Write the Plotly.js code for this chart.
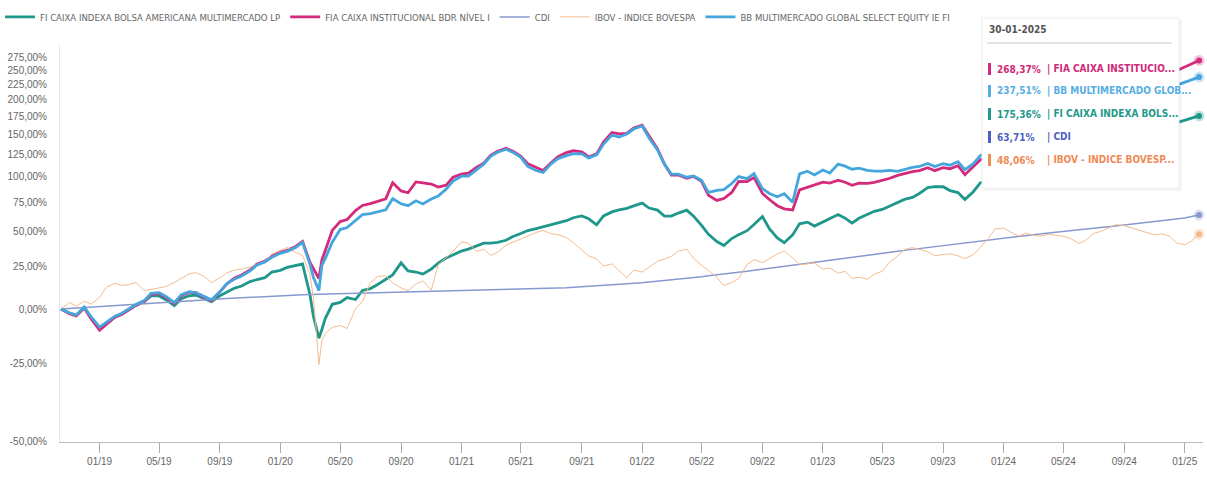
<!DOCTYPE html>
<html><head><meta charset="utf-8">
<script src="https://cdn.plot.ly/plotly-3.0.1.min.js"></script>
<style>html,body{margin:0;padding:0;background:#fff;}#chart{width:1207px;height:478px;}</style>
</head><body><div id="chart"></div>
<script>
const dates = [
'2018-10-15','2018-11-01','2018-11-15','2018-12-01','2018-12-15',
'2019-01-01','2019-01-15','2019-02-01','2019-02-15','2019-03-01','2019-03-15','2019-04-01','2019-04-15','2019-05-01','2019-05-15','2019-06-01','2019-06-15',
'2019-07-01','2019-07-15','2019-08-01','2019-08-15','2019-09-01','2019-09-15','2019-10-01','2019-10-15','2019-11-01','2019-11-15','2019-12-01','2019-12-15',
'2020-01-01','2020-01-15','2020-02-01','2020-02-15','2020-03-01','2020-03-08','2020-03-15','2020-03-19','2020-03-25','2020-04-01','2020-04-15','2020-05-01','2020-05-15','2020-06-01','2020-06-15',
'2020-07-01','2020-07-15','2020-08-01','2020-08-15','2020-09-01','2020-09-15','2020-10-01','2020-10-15','2020-11-01','2020-11-15','2020-12-01','2020-12-15',
'2021-01-01','2021-01-15','2021-02-01','2021-02-15','2021-03-01','2021-03-15','2021-04-01','2021-04-15','2021-05-01','2021-05-15','2021-06-01','2021-06-15',
'2021-07-01','2021-07-15','2021-08-01','2021-08-15','2021-09-01','2021-09-15','2021-10-01','2021-10-15','2021-11-01','2021-11-15','2021-12-01','2021-12-15',
'2022-01-01','2022-01-15','2022-02-01','2022-02-15','2022-03-01','2022-03-15','2022-04-01','2022-04-15','2022-05-01','2022-05-15','2022-06-01','2022-06-15',
'2022-07-01','2022-07-15','2022-08-01','2022-08-15','2022-09-01','2022-09-15','2022-10-01','2022-10-15','2022-11-01','2022-11-15','2022-12-01','2022-12-15',
'2023-01-01','2023-01-15','2023-02-01','2023-02-15','2023-03-01','2023-03-15','2023-04-01','2023-04-15','2023-05-01','2023-05-15','2023-06-01','2023-06-15',
'2023-07-01','2023-07-15','2023-08-01','2023-08-15','2023-09-01','2023-09-15','2023-10-01','2023-10-15','2023-11-01','2023-11-15','2023-12-01','2023-12-15',
'2024-01-01','2024-01-15','2024-02-01','2024-02-15','2024-03-01','2024-03-15','2024-04-01','2024-04-15','2024-05-01','2024-05-15','2024-06-01','2024-06-15',
'2024-07-01','2024-07-15','2024-08-01','2024-08-15','2024-09-01','2024-09-15','2024-10-01','2024-10-15','2024-11-01','2024-11-15','2024-12-01','2024-12-15',
'2025-01-01','2025-01-15'
];
const lastDate = '2025-01-30';
const tooltipDate = '30-01-2025';

const seriesNames = [
  'FI CAIXA INDEXA BOLSA AMERICANA MULTIMERCADO LP',
  'FIA CAIXA INSTITUCIONAL BDR NÍVEL I',
  'CDI',
  'IBOV - INDICE BOVESPA',
  'BB MULTIMERCADO GLOBAL SELECT EQUITY IE FI'
];

// accumulated return, %
const fiValues = [
  0, -2.1, -3.1, 1.0, -4.6,
  -9.6, -7.2, -4.2, -2.7, -0.3, 1.9, 4.0, 7.1, 7.1, 5.0, 1.8, 5.5, 7.2, 7.5, 5.5, 3.9, 7.2, 9.4, 11.6, 12.8, 15.5, 16.7, 17.9, 21.4,
  22.5, 24.4, 25.8, 26.6, 7.8, -3.8, -10.6, -14.2, -10.2, -4.8, 2.5, 3.5, 6.2, 5.1, 10.2, 11.3, 13.6, 16.6, 19.6, 27.4, 22.1, 21.4, 20.1, 23.3, 27.2, 30.6, 32.7,
  35.5, 36.9, 39.0, 41.2, 41.2, 41.9, 43.4, 46.3, 48.6, 50.9, 52.5, 54.0, 55.7, 57.3, 58.9, 61.4, 63.0, 60.5, 55.5, 62.9, 66.4, 68.1, 69.5, 71.7,
  74.3, 69.8, 68.0, 62.8, 62.8, 65.4, 67.9, 62.6, 55.1, 47.9, 42.5, 39.5, 44.7, 47.7, 50.8, 55.7, 62.4, 52.3, 45.2, 41.6, 47.5, 56.3, 57.7, 54.5,
  57.8, 61.2, 64.1, 61.0, 56.9, 60.9, 64.3, 66.9, 68.6, 71.2, 74.9, 77.7, 79.5, 83.3, 89.0, 90.0, 89.9, 86.1, 84.2, 77.5, 85.0, 93.8
];
const fiaValues = [
  0, -2.5, -3.6, 0.5, -5.1,
  -10.5, -7.7, -4.2, -2.7, -0.3, 1.9, 4.0, 7.9, 8.5, 6.2, 2.9, 7.2, 9.2, 8.9, 6.1, 4.5, 9.4, 14.1, 17.7, 19.5, 22.7, 26.6, 28.6, 31.9,
  34.6, 36.0, 38.8, 42.5, 27.7, 23.7, 19.3, 17.3, 29.2, 36.1, 51.0, 58.2, 59.9, 67.6, 72.1, 73.8, 75.7, 78.3, 93.9, 85.8, 84.0, 94.7, 93.8, 92.6, 89.6, 91.5, 99.6,
  102.9, 103.8, 110.4, 114.9, 124.0, 128.8, 132.3, 128.7, 122.6, 114.3, 109.9, 106.8, 115.4, 122.4, 127.1, 129.3, 128.1, 122.0, 125.6, 140.0, 152.4, 150.5, 151.2, 158.3,
  162.4, 147.5, 131.4, 113.8, 101.9, 101.9, 98.5, 100.4, 95.3, 81.5, 76.7, 78.5, 84.3, 95.2, 95.1, 99.2, 83.3, 77.6, 71.9, 69.1, 68.1, 86.8, 89.6, 91.6,
  94.6, 93.6, 96.6, 94.4, 91.4, 93.4, 93.3, 94.3, 96.4, 98.3, 101.5, 103.6, 105.6, 106.7, 109.9, 106.6, 109.8, 108.7, 112.0, 102.3, 110.8, 118.5
];
const cdiValues = [
  0, 0.3, 0.55, 0.8, 1.05,
  1.3, 1.55, 1.8, 2.05, 2.3, 2.55, 2.8, 3.05, 3.3, 3.55, 3.8, 4.1, 4.4, 4.65, 4.9, 5.15, 5.4, 5.65, 5.9, 6.15, 6.4, 6.6, 6.8, 7.0,
  7.2, 7.4, 7.6, 7.75, 7.9, 7.95, 8.05, 8.1, 8.2, 8.3, 8.45, 8.6, 8.75, 8.9, 9.0, 9.1, 9.2, 9.3, 9.4, 9.5, 9.55, 9.6, 9.7, 9.8, 9.9, 10.0, 10.05,
  10.1, 10.2, 10.3, 10.35, 10.4, 10.5, 10.6, 10.7, 10.8, 10.95, 11.1, 11.25, 11.4, 11.6, 11.8, 12.05, 12.3, 12.55, 12.8, 13.1, 13.4, 13.7, 14.0, 14.4,
  14.8, 15.25, 15.7, 16.1, 16.5, 17.0, 17.5, 18.0, 18.5, 19.05, 19.6, 20.15, 20.7, 21.3, 21.9, 22.55, 23.2, 23.85, 24.5, 25.15, 25.8, 26.45, 27.1, 27.75,
  28.4, 29.1, 29.8, 30.45, 31.1, 31.8, 32.5, 33.2, 33.9, 34.6, 35.3, 36.0, 36.7, 37.4, 38.1, 38.85, 39.6, 40.3, 41.0, 41.7, 42.4, 43.05, 43.7, 44.35,
  45.0, 45.7, 46.4, 47.0, 47.6, 48.25, 48.9, 49.55, 50.2, 50.8, 51.4, 52.05, 52.7, 53.35, 54.0, 54.65, 55.3, 55.95, 56.6, 57.3, 58.0, 58.75, 59.5, 60.35,
  61.2, 62.4
];
const ibovValues = [
  0, 3.5, 1.5, 4.2, 2.6,
  6.4, 12.1, 14.5, 13.1, 13.7, 14.9, 10.2, 10.8, 11.9, 12.5, 14.9, 17.2, 20.3, 21.0, 18.5, 14.8, 17.8, 20.9, 22.7, 23.3, 24.6, 26.6, 28.6, 33.4,
  36.1, 38.1, 34.5, 32.4, 20.0, 5.8, -14.5, -25.3, -15.3, -12.0, -9.2, -8.3, -9.7, 0.3, 4.0, 14.9, 18.5, 19.1, 14.7, 11.7, 10.0, 14.1, 15.9, 10.5, 25.9, 30.6, 35.5,
  42.1, 41.3, 35.3, 36.8, 32.5, 34.7, 39.7, 41.9, 44.0, 46.3, 49.4, 50.9, 48.5, 47.7, 45.4, 41.6, 36.4, 32.1, 30.0, 25.3, 26.7, 22.1, 17.7, 22.7,
  21.4, 24.6, 28.5, 29.8, 31.9, 35.5, 36.8, 30.4, 25.7, 22.4, 18.0, 13.1, 14.9, 17.3, 26.3, 29.6, 27.5, 30.2, 33.5, 35.6, 30.7, 26.1, 26.6, 27.3,
  23.3, 24.0, 20.7, 21.9, 17.5, 18.1, 16.9, 20.0, 21.9, 27.7, 31.8, 36.7, 38.0, 36.6, 35.1, 32.3, 33.0, 33.6, 32.2, 30.2, 32.9, 37.9, 44.5, 52.2,
  52.9, 49.8, 46.5, 48.9, 47.3, 46.5, 48.0, 47.2, 46.4, 44.9, 41.1, 43.3, 48.6, 50.2, 53.3, 55.6, 54.8, 53.1, 51.5, 49.9, 47.5, 48.3, 46.7, 41.5,
  40.0, 42.9
];
const bbValues = [
  0, -2.1, -3.1, 1.0, -4.1,
  -9.1, -6.7, -3.7, -2.2, 0.3, 2.4, 4.5, 8.5, 9.0, 6.8, 3.4, 7.8, 9.5, 8.9, 6.7, 5.0, 9.4, 14.1, 17.1, 18.9, 22.1, 26.0, 28.0, 31.2,
  33.9, 35.3, 38.1, 41.8, 26.4, 18.0, 13.0, 10.1, 25.7, 30.4, 42.0, 51.7, 53.3, 59.0, 64.1, 64.9, 66.6, 68.3, 78.3, 73.7, 71.9, 76.4, 73.5, 78.1, 80.8, 87.5, 95.6,
  100.7, 100.7, 108.2, 113.7, 122.8, 127.6, 131.1, 127.5, 121.5, 111.2, 106.8, 104.6, 114.2, 120.1, 123.6, 125.8, 125.7, 120.8, 124.4, 137.6, 149.1, 146.5, 150.4, 157.0,
  161.1, 145.2, 130.4, 113.8, 102.9, 102.9, 99.6, 100.9, 96.3, 84.4, 86.2, 87.1, 93.1, 100.2, 98.1, 103.4, 88.0, 83.3, 80.2, 83.1, 75.0, 103.1, 106.0, 102.0,
  107.3, 104.1, 113.8, 111.5, 108.2, 109.3, 107.0, 106.0, 106.0, 106.9, 105.8, 108.0, 110.1, 111.2, 114.5, 111.1, 114.3, 112.6, 116.5, 107.7, 114.2, 123.4
];
const finalValues = [175.36, 268.37, 63.71, 48.06, 237.51];

const yTickValues = [-50, -25, 0, 25, 50, 75, 100, 125, 150, 175, 200, 225, 250, 275];

const lineColors = ['#1f978b', '#d42a7c', '#8599cf', '#f5bb8c', '#45a6de'];
const haloColors = ['rgba(31,151,139,0.28)', 'rgba(212,42,124,0.28)', 'rgba(133,153,207,0.28)', 'rgba(245,187,140,0.35)', 'rgba(69,166,222,0.28)'];
const textColors = ['#22988c', '#cf2a7b', '#4e5fc3', '#ef8a55', '#58aee2'];
const lineWidths = [2.8, 2.8, 1.5, 1, 2.8];

const NARROW = '"Liberation Sans Narrow", "Arial Narrow", "DejaVu Sans Condensed", "Liberation Sans", Arial, sans-serif';
const SANS = '"Liberation Sans", Arial, sans-serif';

const allValues = [fiValues, fiaValues, cdiValues, ibovValues, bbValues];
const toFactor = v => 1 + v / 100;

const traces = [];
allValues.forEach((vals, i) => {
  traces.push({
    type: 'scatter', mode: 'lines', name: seriesNames[i],
    x: dates.slice(0, vals.length).concat([lastDate]),
    y: vals.concat([finalValues[i]]).map(toFactor),
    line: {color: lineColors[i], width: lineWidths[i]},
    hoverinfo: 'skip'
  });
});
allValues.forEach((vals, i) => {
  traces.push({
    type: 'scatter', mode: 'markers', showlegend: false, cliponaxis: false,
    x: [lastDate], y: [toFactor(finalValues[i])],
    marker: {size: 6, color: lineColors[i], line: {width: 5, color: haloColors[i]}},
    hoverinfo: 'skip'
  });
});

// plot area in pixels
const L = 60, R = 1203, T = 45, B = 442;
const fx = px => (px - L) / (R - L);
const fy = py => (B - py) / (B - T);

const fmt = v => v.toFixed(2).replace('.', ',') + '%';
const shortName = n => n.length > 20 ? n.slice(0, 20) + '...' : n;

const order = finalValues.map((v, i) => i).sort((a, b) => finalValues[b] - finalValues[a]);
const rowY = [69, 91, 114, 137, 160];

const shapes = [
  {type: 'rect', xref: 'paper', yref: 'paper', layer: 'above', x0: fx(984), x1: fx(1182), y0: fy(191), y1: fy(20), fillcolor: 'rgba(0,0,0,0.04)', line: {width: 0}},
  {type: 'rect', xref: 'paper', yref: 'paper', layer: 'above', x0: fx(982), x1: fx(1179), y0: fy(188), y1: fy(18), fillcolor: '#ffffff', line: {color: '#ececec', width: 1}},
  {type: 'line', xref: 'paper', yref: 'paper', layer: 'above', x0: fx(987), x1: fx(1172), y0: fy(43), y1: fy(43), line: {color: '#c9c9c9', width: 1}}
];
const annotations = [
  {xref: 'paper', yref: 'paper', x: fx(987), y: fy(30), xanchor: 'left', yanchor: 'middle', showarrow: false,
   text: '<b>' + tooltipDate + '</b>', font: {family: NARROW, size: 10, color: '#555'}}
];
order.forEach((si, r) => {
  const y = rowY[r];
  shapes.push({type: 'rect', xref: 'paper', yref: 'paper', layer: 'above', x0: fx(988), x1: fx(991), y0: fy(y + 6), y1: fy(y - 6), fillcolor: textColors[si], line: {width: 0}});
  annotations.push({xref: 'paper', yref: 'paper', x: fx(995), y: fy(y), xanchor: 'left', yanchor: 'middle', showarrow: false,
    text: '<b>' + fmt(finalValues[si]) + '</b>', font: {family: NARROW, size: 10, color: textColors[si]}});
  annotations.push({xref: 'paper', yref: 'paper', x: fx(1045), y: fy(y), xanchor: 'left', yanchor: 'middle', showarrow: false,
    text: '<b>| ' + shortName(seriesNames[si]) + '</b>', font: {family: NARROW, size: 10, color: textColors[si]}});
});

const zeroPx = 309, pxPerDecade = 439;
const layout = {
  width: 1207, height: 478,
  margin: {l: L, r: 1207 - R, t: T, b: 478 - B},
  paper_bgcolor: '#ffffff', plot_bgcolor: '#ffffff',
  font: {family: SANS, color: '#666'},
  showlegend: true,
  legend: {orientation: 'h', xref: 'container', yref: 'container', x: 0, y: 0.995, xanchor: 'left', yanchor: 'top',
    font: {family: NARROW, size: 9.5, color: '#666'}, bgcolor: 'rgba(0,0,0,0)'},
  xaxis: {type: 'date', range: ['2018-10-13', '2025-02-07'], tickformat: '%m/%y', dtick: 'M4', tick0: '2019-01-01',
    ticks: 'outside', ticklen: 10, tickcolor: '#aaa', showline: true, linecolor: '#bdbdbd', linewidth: 1,
    showgrid: false, zeroline: false, tickfont: {family: SANS, size: 10, color: '#666'}},
  yaxis: {type: 'log', range: [-(B - zeroPx) / pxPerDecade, (zeroPx - T) / pxPerDecade],
    tickvals: yTickValues.map(toFactor), ticktext: yTickValues.map(fmt),
    showline: true, linecolor: '#e6e6e6', showgrid: false, zeroline: false, ticks: '',
    ticklabelstandoff: 10, tickfont: {family: SANS, size: 10, color: '#666'}},
  shapes: shapes,
  annotations: annotations
};

Plotly.newPlot('chart', traces, layout, {displayModeBar: false, staticPlot: true});
</script>
</body></html>
